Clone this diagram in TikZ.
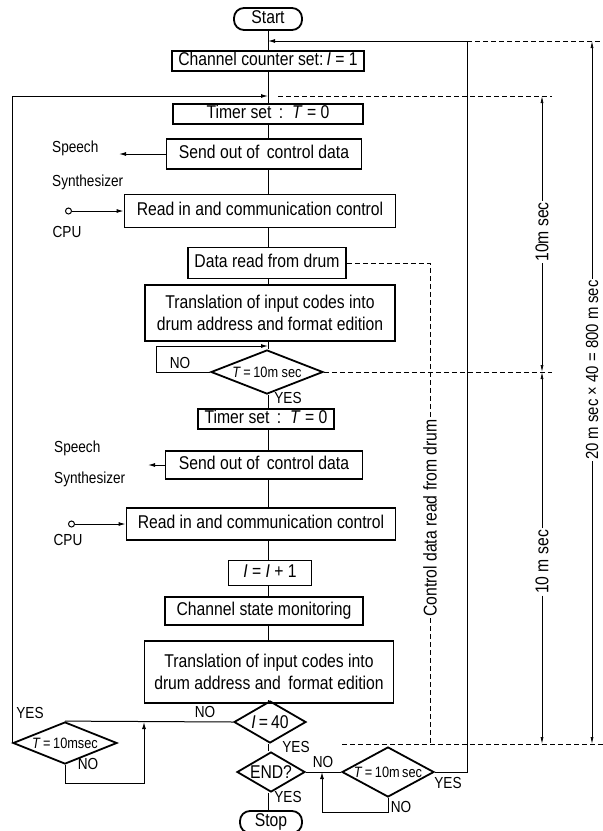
\documentclass[tikz,border=0pt]{standalone}
\usepackage{fontspec}
\newfontfamily\chartfont{Liberation Sans}[FakeStretch=0.85]
\usetikzlibrary{arrows.meta, positioning, shapes.geometric, calc}

\begin{document}
\begin{tikzpicture}[x=1pt, y=-1pt,
    % Styles
    box text/.style={font=\chartfont\fontsize{18.5}{22}\selectfont},
    small text/.style={font=\chartfont\fontsize{15}{17}\selectfont},
    proc/.style={draw, line width=1.8pt, inner xsep=3pt, inner ysep=1pt, box text, text height=13pt, text depth=3.5pt},
    proc tall/.style={draw, line width=1.8pt, inner sep=2pt, box text, align=center},
    terminal/.style={proc, rounded corners=10pt},
    decision/.style={draw, diamond, line width=1.8pt, inner sep=0pt},
    tag/.style={font=\chartfont\fontsize{16}{18}\selectfont, inner sep=0pt},
    flow/.style={line width=1pt},
    flow arrow/.style={flow, -{Latex[length=7pt, width=4pt]}},
    pin arrow/.style={flow, {Circle[open, length=7pt]}-{Latex[length=7pt, width=4pt]}},
    dim arrow/.style={line width=0.7pt, -{Latex[length=7pt, width=3pt]}},
    dim label/.style={box text, rotate=90, inner sep=1.5pt},
    ext line/.style={line width=0.8pt, dash pattern=on 5pt off 3pt},
]
    \useasboundingbox (0,0) rectangle (603,831);

    % trunk of the chart
    \coordinate (main) at (268,0);

    % === First 10 msec ===
    \node[terminal, minimum width=68pt, minimum height=22pt] (start) at (268,19) {Start};
    \node[proc, minimum width=192pt, minimum height=20pt] (count) at (268,61) {Channel counter set:\,\textit{I} = 1};
    \node[proc, minimum width=190pt, minimum height=20pt] (timer-1) at (268,114) {Timer set\, :\, \textit{T} = 0};
    \node[proc, minimum width=195pt, minimum height=30pt] (send-1) at (264,154) {Send out of\, control data};
    \node[proc, minimum width=271pt, minimum height=33pt] (readin-1) at (260,211) {Read in and communication control};
    \node[proc, minimum width=158pt, minimum height=31pt] (drum) at (267,263) {Data read from drum};
    \node[proc tall, minimum width=250pt, minimum height=56pt] (trans-1) at (270,313) {Translation of input codes into\\drum address and format edition};
    \node[decision, minimum width=112pt, minimum height=44pt] (wait-1) at (267,372) {};
    \node[small text] at (wait-1) {\textit{T}\,=\,10m sec};

    % Speech synthesizer and CPU
    \node[tag, anchor=west] (speech-1) at (52,148) {Speech};
    \node[tag, anchor=west] (synth-1) at (52,182) {Synthesizer};
    \coordinate (synth-tip-1) at (119,154);
    \coordinate (cpu-pin-1) at (65,211);
    \node[tag] (cpu-1) at (67,232) {CPU};

    % === Second 10 msec ===
    \node[proc, minimum width=136pt, minimum height=20pt] (timer-2) at (266,419) {Timer set\, :\, \textit{T} = 0};
    \node[proc, minimum width=197pt, minimum height=28pt] (send-2) at (264,465) {Send out of\, control data};
    \node[proc, minimum width=269pt, minimum height=32pt] (readin-2) at (261,524) {Read in and communication control};
    \node[proc, minimum width=83pt, minimum height=25pt] (incr) at (270,573) {\textit{I} = \textit{I} + 1};
    \node[proc, minimum width=198pt, minimum height=28pt] (monitor) at (264,611) {Channel state monitoring};
    \node[proc tall, minimum width=249pt, minimum height=62pt] (trans-2) at (269,672) {Translation of input codes into\\drum address and\, format edition};
    \node[decision, minimum width=72pt, minimum height=42pt] (last) at (270,722) {};
    \node[box text] at (last) {\textit{I}\,=\,40};
    \node[decision, minimum width=68pt, minimum height=40pt] (end) at (271,772) {};
    \node[box text] at (end) {END?};
    \node[terminal, minimum width=62pt, minimum height=22pt] (stop) at (271,822) {Stop};

    \node[tag, anchor=west] (speech-2) at (54,448) {Speech};
    \node[tag, anchor=west] (synth-2) at (54,479) {Synthesizer};
    \coordinate (synth-tip-2) at (148,465);
    \coordinate (cpu-pin-2) at (68,524);
    \node[tag] (cpu-2) at (68,540) {CPU};

    % Side waits
    \node[decision, minimum width=104pt, minimum height=42pt] (wait-loop) at (65,743) {};
    \node[small text] at (wait-loop) {\textit{T}\,=\,10msec};
    \node[decision, minimum width=92pt, minimum height=50pt] (wait-end) at (388,772) {};
    \node[small text] at (wait-end) {\textit{T}\,=\,10m\,sec};

    % Trunk connections
    \draw[flow] (start.south -| main) -- (count.north -| main);
    \draw[flow] (count.south -| main) -- (timer-1.north -| main);
    \draw[flow] (timer-1.south -| main) -- (send-1.north -| main);
    \draw[flow] (send-1.south -| main) -- (readin-1.north -| main);
    \draw[flow] (readin-1.south -| main) -- (drum.north -| main);
    \draw[flow] (drum.south -| main) -- (trans-1.north -| main);
    \draw[flow] (trans-1.south -| main) -- (wait-1.north -| main);
    \draw[flow] (wait-1.south -| main) -- (timer-2.north -| main);
    \draw[flow] (timer-2.south -| main) -- (send-2.north -| main);
    \draw[flow] (send-2.south -| main) -- (readin-2.north -| main);
    \draw[flow] (readin-2.south -| main) -- (incr.north -| main);
    \draw[flow] (incr.south -| main) -- (monitor.north -| main);
    \draw[flow] (monitor.south -| main) -- (trans-2.north -| main);
    \draw[flow] (trans-2.south -| main) -- (last.north -| main);
    \draw[flow] (last.south -| main) -- (end.north -| main);
    \draw[flow] (end.south -| main) -- (stop.north -| main);

    % Side arrows
    \draw[flow arrow] (send-1.west) -- (synth-tip-1);
    \draw[pin arrow] (cpu-pin-1) -- (readin-1.west);
    \draw[flow arrow] (send-2.west) -- (synth-tip-2);
    \draw[pin arrow] (cpu-pin-2) -- (readin-2.west);

    % Wait loop of the first 10 msec
    \coordinate (corner-1) at (156,346);
    \coordinate (join-1) at (268,346);
    \draw[flow arrow] (wait-1.west) -| (corner-1) -- (join-1);
    \node[tag] at (180,363) {NO};
    \node[tag] at (288,398) {YES};

    % Channel loop back to timer set
    \coordinate (join-loop) at (268,96);
    \draw[flow] (last.west) -- (wait-loop.north);
    \draw[flow arrow] (wait-loop.west) |- (join-loop);
    \coordinate (corner-loop) at (144,783);
    \coordinate (join-small) at (144,722);
    \draw[flow arrow] (wait-loop.south) |- (corner-loop) -- (join-small);
    \node[tag] at (205,712) {NO};
    \node[tag] at (296,747) {YES};
    \node[tag] at (30,713) {YES};
    \node[tag] at (88,764) {NO};

    % Restart loop back to channel counter
    \draw[flow] (end.east) -- (wait-end.west);
    \coordinate (corner-end) at (322,812);
    \coordinate (join-end) at (322,772);
    \draw[flow arrow] (wait-end.south) |- (corner-end) -- (join-end);
    \coordinate (rise-top) at (467,41);
    \coordinate (join-top) at (268,41);
    \draw[flow arrow] (wait-end.east) -| (rise-top) -- (join-top);
    \node[tag] at (288,797) {YES};
    \node[tag] at (323,762) {NO};
    \node[tag] at (401,807) {NO};
    \node[tag] at (448,783) {YES};

    % Control data read from drum
    \node[dim label] (drum-label) at (430,518) {Control data read from drum};
    \coordinate (drum-end) at (430,744);
    \draw[ext line] (drum.east) -| (drum-label.east);
    \draw[ext line] (drum-label.west) -- (drum-end);

    % Timing extension lines
    \coordinate (ext-top) at (603,41);
    \coordinate (ext-loop-a) at (278,96);
    \coordinate (ext-loop-b) at (552,96);
    \coordinate (ext-mid) at (552,372);
    \coordinate (ext-bot-a) at (342,744);
    \coordinate (ext-bot-b) at (603,744);
    \draw[ext line] (rise-top) -- (ext-top);
    \draw[ext line] (ext-loop-a) -- (ext-loop-b);
    \draw[ext line] (wait-1.east) -- (ext-mid);
    \draw[ext line] (ext-bot-a) -- (ext-bot-b);

    % Timing dimensions
    \coordinate (dim10-top) at (542,96);
    \coordinate (dim10-mid) at (542,372);
    \coordinate (dim10-bot) at (542,744);
    \coordinate (dim20-top) at (592,41);
    \coordinate (dim20-bot) at (592,744);
    \node[dim label] (dim10-a) at (542,232) {10m sec};
    \node[dim label] (dim10-b) at (542,562) {10 m sec};
    \node[dim label, font=\chartfont\fontsize{17.5}{20}\selectfont] (dim20) at (592,370) {20 m sec × 40 = 800 m sec};
    \draw[dim arrow] (dim10-a.east) -- (dim10-top);
    \draw[dim arrow] (dim10-a.west) -- (dim10-mid);
    \draw[dim arrow] (dim10-b.east) -- (dim10-mid);
    \draw[dim arrow] (dim10-b.west) -- (dim10-bot);
    \draw[dim arrow] (dim20.east) -- (dim20-top);
    \draw[dim arrow] (dim20.west) -- (dim20-bot);
\end{tikzpicture}
\end{document}
